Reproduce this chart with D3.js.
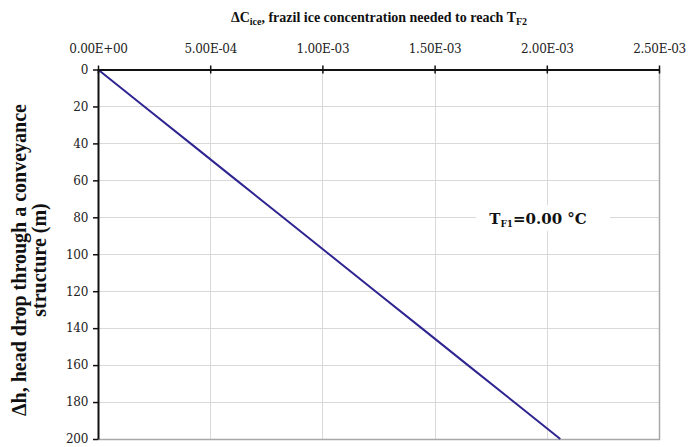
<!DOCTYPE html>
<html>
<head>
<meta charset="utf-8">
<script src="https://cdn.jsdelivr.net/npm/d3@7"></script>
<style>
  html, body { margin: 0; padding: 0; background: #fff; }
  svg { display: block; }
</style>
</head>
<body>
<svg id="chart" width="688" height="447"></svg>
<script>
// Head drop through the structure (m)
const headDrop = [0, 20, 40, 60, 80, 100, 120, 140, 160, 180, 200];
// Frazil ice concentration needed to reach TF2
const iceConc = [0, 2.06e-4, 4.12e-4, 6.18e-4, 8.24e-4, 1.03e-3, 1.236e-3, 1.442e-3, 1.648e-3, 1.854e-3, 2.06e-3];
const xTicks = [0, 5e-4, 1e-3, 1.5e-3, 2e-3, 2.5e-3];
const xTickLabels = ["0.00E+00", "5.00E-04", "1.00E-03", "1.50E-03", "2.00E-03", "2.50E-03"];
const yTicks = [0, 20, 40, 60, 80, 100, 120, 140, 160, 180, 200];

const SERIF = "'Liberation Serif', serif";
const WIDE = "'DejaVu Serif', serif";

const svg = d3.select("#chart");
const L = 98, R = 659, T = 69.5, B = 439;

const x = d3.scaleLinear().domain([0, 2.5e-3]).range([L, R]);
const y = d3.scaleLinear().domain([0, 200]).range([T, B]);

// grid
const grid = svg.append("g").attr("stroke", "#d9d9d9").attr("stroke-width", 1);
grid.selectAll("line.v").data(xTicks.slice(1)).join("line")
  .attr("x1", d => Math.round(x(d)) + 0.5).attr("x2", d => Math.round(x(d)) + 0.5)
  .attr("y1", T).attr("y2", B);
grid.selectAll("line.h").data(yTicks.slice(1)).join("line")
  .attr("y1", d => Math.round(y(d)) + 0.5).attr("y2", d => Math.round(y(d)) + 0.5)
  .attr("x1", L).attr("x2", R);

// plot border right/bottom
svg.append("path")
  .attr("d", `M${R + 0.5},${T} V${B + 0.5} H${L}`)
  .attr("fill", "none").attr("stroke", "#a8a8a8").attr("stroke-width", 1.5);

// annotation box
const ann = svg.append("g");
ann.append("rect").attr("x", 476).attr("y", 205).attr("width", 134).attr("height", 26).attr("fill", "#fff");

// series line
const line = d3.line().x((d, i) => x(iceConc[i])).y(d => y(d));
svg.append("path").datum(headDrop)
  .attr("d", line)
  .attr("fill", "none").attr("stroke", "#2f2590").attr("stroke-width", 2);

// top axis
const xAxis = d3.axisTop(x).tickValues(xTicks).tickFormat((d, i) => xTickLabels[i])
  .tickSizeInner(4).tickSizeOuter(0).tickPadding(13);
const gx = svg.append("g").attr("transform", `translate(0,${T})`).call(xAxis);
gx.select(".domain").attr("stroke", "#111").attr("stroke-width", 2);
gx.selectAll(".tick line").attr("stroke", "#111").attr("stroke-width", 1.5).attr("y2", -4).attr("y1", 4);
gx.selectAll(".tick text").style("font-family", WIDE).style("font-size", "12px")
  .style("letter-spacing", "-0.3px").attr("fill", "#222");

// left axis
const yAxis = d3.axisLeft(y).tickValues(yTicks).tickSizeInner(5).tickSizeOuter(0).tickPadding(5);
const gy = svg.append("g").attr("transform", `translate(${L},0)`).call(yAxis);
gy.select(".domain").attr("stroke", "#111").attr("stroke-width", 2);
gy.selectAll(".tick line").attr("stroke", "#111").attr("stroke-width", 1.5);
gy.selectAll(".tick text").style("font-family", WIDE).style("font-size", "12px")
  .style("letter-spacing", "-0.3px").attr("fill", "#222");

// title
const title = svg.append("text").attr("x", 379).attr("y", 22).attr("text-anchor", "middle")
  .style("font-family", SERIF).style("font-size", "14px").style("font-weight", "bold").attr("fill", "#111");
title.append("tspan").text("ΔC");
title.append("tspan").style("font-size", "10px").attr("dy", 3).text("ice");
title.append("tspan").attr("dy", -3).text(", frazil ice concentration needed to reach T");
title.append("tspan").style("font-size", "10px").attr("dy", 3).text("F2");

// y axis title
const yt = svg.append("g").attr("transform", "translate(0,260) rotate(-90)")
  .style("font-family", SERIF).style("font-size", "20px").style("font-weight", "bold").attr("fill", "#111");
yt.append("text").attr("x", 0).attr("y", 26).attr("text-anchor", "middle")
  .text("Δh, head drop through a conveyance");
yt.append("text").attr("x", 0).attr("y", 46).attr("text-anchor", "middle")
  .text("structure (m)");

// annotation text
const at = ann.append("text").attr("x", 538).attr("y", 224).attr("text-anchor", "middle")
  .style("font-family", WIDE).style("font-size", "15px").style("font-weight", "bold").attr("fill", "#111");
at.append("tspan").text("T");
at.append("tspan").style("font-size", "9px").attr("dy", 3).text("F1");
at.append("tspan").attr("dy", -3).text("=0.00 °C");
</script>
</body>
</html>
